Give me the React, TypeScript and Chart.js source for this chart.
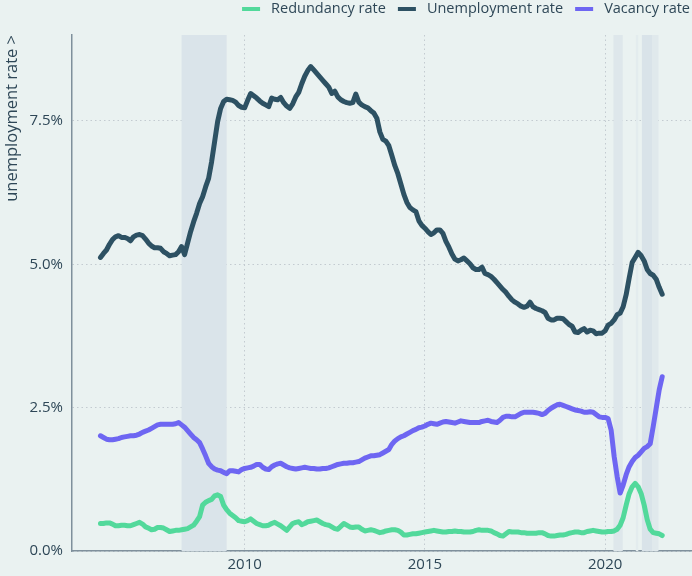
import React, { useEffect, useRef } from 'react';
import { Chart, registerables } from 'chart.js';

Chart.register(...registerables);

// ---- data (monthly, Jan 2006 .. Aug 2021) ----
const START_YEAR = 2006;
const SERIES_LABELS = ['Redundancy rate', 'Unemployment rate', 'Vacancy rate'];

const REDUNDANCY = [
  0.48, 0.48, 0.49, 0.49, 0.47, 0.44, 0.44, 0.45, 0.45, 0.44, 0.44, 0.46,
  0.48, 0.50, 0.47, 0.42, 0.40, 0.37, 0.38, 0.41, 0.41, 0.40, 0.37, 0.34,
  0.35, 0.36, 0.36, 0.37, 0.38, 0.39, 0.42, 0.45, 0.52, 0.60, 0.80, 0.85,
  0.88, 0.90, 0.96, 0.98, 0.95, 0.80, 0.72, 0.66, 0.62, 0.58, 0.53, 0.52,
  0.51, 0.53, 0.56, 0.52, 0.48, 0.46, 0.44, 0.44, 0.45, 0.48, 0.50, 0.47,
  0.44, 0.40, 0.36, 0.42, 0.48, 0.50, 0.51, 0.46, 0.48, 0.51, 0.52, 0.53,
  0.54, 0.51, 0.48, 0.46, 0.45, 0.42, 0.39, 0.38, 0.43, 0.48, 0.45, 0.42,
  0.41, 0.42, 0.42, 0.38, 0.35, 0.36, 0.37, 0.36, 0.34, 0.32, 0.33, 0.35,
  0.36, 0.37, 0.37, 0.36, 0.33, 0.28, 0.28, 0.29, 0.30, 0.30, 0.31, 0.32,
  0.33, 0.34, 0.35, 0.36, 0.35, 0.34, 0.33, 0.33, 0.34, 0.34, 0.35, 0.34,
  0.34, 0.33, 0.33, 0.33, 0.34, 0.36, 0.37, 0.36, 0.36, 0.36, 0.35, 0.32,
  0.30, 0.27, 0.26, 0.30, 0.34, 0.33, 0.33, 0.33, 0.32, 0.32, 0.31, 0.31,
  0.31, 0.31, 0.32, 0.32, 0.30, 0.27, 0.26, 0.26, 0.27, 0.28, 0.28, 0.29,
  0.31, 0.32, 0.33, 0.33, 0.32, 0.32, 0.34, 0.35, 0.36, 0.35, 0.34, 0.33,
  0.33, 0.34, 0.34, 0.35, 0.38, 0.45, 0.58, 0.80, 1.00, 1.12, 1.18, 1.12,
  1.00, 0.80, 0.55, 0.38, 0.32, 0.31, 0.30, 0.27,
];

const UNEMPLOYMENT = [
  5.12, 5.19, 5.25, 5.35, 5.43, 5.48, 5.50, 5.47, 5.47, 5.45, 5.41, 5.48,
  5.51, 5.52, 5.50, 5.44, 5.37, 5.32, 5.29, 5.29, 5.28, 5.22, 5.19, 5.15,
  5.16, 5.17, 5.22, 5.31, 5.17, 5.37, 5.57, 5.74, 5.89, 6.06, 6.18, 6.35,
  6.50, 6.79, 7.14, 7.49, 7.72, 7.84, 7.88, 7.87, 7.86, 7.83, 7.77, 7.74,
  7.73, 7.86, 7.98, 7.94, 7.90, 7.85, 7.81, 7.78, 7.75, 7.90, 7.88, 7.87,
  7.91, 7.82, 7.76, 7.72, 7.80, 7.92, 8.00, 8.15, 8.28, 8.38, 8.45, 8.39,
  8.33, 8.27, 8.21, 8.15, 8.09, 7.98, 8.02, 7.92, 7.87, 7.84, 7.82, 7.81,
  7.82, 7.97, 7.83, 7.78, 7.75, 7.73, 7.68, 7.64, 7.55, 7.31, 7.18, 7.15,
  7.07, 6.90, 6.72, 6.58, 6.40, 6.22, 6.08, 5.99, 5.95, 5.92, 5.76, 5.68,
  5.63, 5.57, 5.52, 5.55, 5.60, 5.60, 5.54, 5.40, 5.30, 5.18, 5.09, 5.06,
  5.08, 5.11, 5.06, 5.01, 4.94, 4.91, 4.91, 4.95, 4.84, 4.82, 4.79, 4.74,
  4.68, 4.62, 4.56, 4.51, 4.44, 4.38, 4.34, 4.31, 4.27, 4.25, 4.27, 4.34,
  4.26, 4.23, 4.21, 4.19, 4.16, 4.06, 4.03, 4.03, 4.06, 4.06, 4.05, 4.00,
  3.95, 3.92, 3.82, 3.81, 3.85, 3.88, 3.82, 3.85, 3.84, 3.79, 3.80, 3.80,
  3.84, 3.94, 3.97, 4.03, 4.12, 4.15, 4.26, 4.47, 4.76, 5.03, 5.12, 5.21,
  5.15, 5.06, 4.91, 4.84, 4.81, 4.74, 4.60, 4.48,
];

const VACANCY = [
  2.01, 1.98, 1.95, 1.94, 1.94, 1.95, 1.96, 1.98, 1.99, 2.00, 2.01, 2.01,
  2.02, 2.04, 2.07, 2.09, 2.11, 2.14, 2.17, 2.20, 2.21, 2.21, 2.21, 2.21,
  2.21, 2.22, 2.24, 2.20, 2.16, 2.10, 2.04, 1.98, 1.94, 1.89, 1.78, 1.66,
  1.53, 1.47, 1.43, 1.41, 1.40, 1.37, 1.35, 1.40, 1.40, 1.39, 1.38, 1.42,
  1.44, 1.45, 1.46, 1.48, 1.51, 1.51, 1.46, 1.43, 1.42, 1.47, 1.50, 1.52,
  1.53, 1.50, 1.47, 1.45, 1.44, 1.43, 1.44, 1.45, 1.46, 1.45, 1.44, 1.44,
  1.43, 1.43, 1.44, 1.44, 1.45, 1.47, 1.49, 1.51, 1.52, 1.53, 1.53, 1.54,
  1.54, 1.55, 1.56, 1.59, 1.62, 1.64, 1.66, 1.66, 1.67, 1.68, 1.71, 1.74,
  1.77, 1.86, 1.92, 1.96, 1.99, 2.01, 2.04, 2.07, 2.10, 2.12, 2.15, 2.16,
  2.18, 2.21, 2.23, 2.22, 2.21, 2.23, 2.25, 2.26, 2.25, 2.24, 2.23, 2.25,
  2.27, 2.26, 2.25, 2.24, 2.24, 2.24, 2.24, 2.26, 2.27, 2.28, 2.26, 2.25,
  2.24, 2.28, 2.33, 2.35, 2.35, 2.34, 2.34, 2.37, 2.40, 2.42, 2.42, 2.42,
  2.42, 2.41, 2.40, 2.38, 2.40, 2.45, 2.49, 2.52, 2.55, 2.56, 2.54, 2.52,
  2.50, 2.48, 2.46, 2.45, 2.44, 2.42, 2.42, 2.43, 2.42, 2.38, 2.34, 2.33,
  2.33, 2.31, 2.11, 1.65, 1.30, 1.01, 1.15, 1.33, 1.47, 1.56, 1.63, 1.67,
  1.73, 1.79, 1.82, 1.87, 2.17, 2.49, 2.81, 3.04,
];

const Y_TICKS = [0, 2.5, 5, 7.5];
const X_TICKS = [2010, 2015, 2020];
const X_MIN = 2005.21;
const X_MAX = 2022.41;
const Y_MIN = 0;
const Y_MAX = 9;

// shaded periods (decimal years)
const BAND_START = [2008.25, 2020.23, 2020.85, 2021.02, 2021.3];
const BAND_END = [2009.5, 2020.49, 2020.92, 2021.3, 2021.48];

// ---- styles ----
const BG = '#eaf2f1';
const BAND_COLORS = ['#dae4ea', '#dee7eb', '#e3ecee', '#d9e3e9', '#e0e9ec'];
const SERIES_COLORS = ['#52d99b', '#2d5163', '#6e66f2'];
const TEXT = '#2e4757';
const FONT = '"Open Sans", sans-serif';

const toPoints = (vals: number[]) => vals.map((v, i) => ({ x: START_YEAR + i / 12, y: v }));

const bandPlugin = {
  id: 'bands',
  beforeDatasetsDraw(chart: any) {
    const { ctx, chartArea, scales } = chart;
    ctx.save();
    for (let i = 0; i < BAND_START.length; i++) {
      const x1 = scales.x.getPixelForValue(BAND_START[i]);
      const x2 = scales.x.getPixelForValue(BAND_END[i]);
      ctx.fillStyle = BAND_COLORS[i];
      ctx.fillRect(x1, chartArea.top, x2 - x1, chartArea.bottom - chartArea.top);
    }
    ctx.restore();
  },
};

const legendPlugin = {
  id: 'customLegend',
  afterDraw(chart: any) {
    const { ctx } = chart;
    ctx.save();
    ctx.font = `14.5px ${FONT}`;
    ctx.textBaseline = 'middle';
    ctx.textAlign = 'left';
    let x = 690;
    for (let i = SERIES_LABELS.length - 1; i >= 0; i--) {
      const label = SERIES_LABELS[i];
      const w = ctx.measureText(label).width;
      const tx = x - w;
      ctx.fillStyle = TEXT;
      ctx.fillText(label, tx, 9);
      const boxRight = tx - 11;
      ctx.fillStyle = SERIES_COLORS[i];
      ctx.fillRect(boxRight - 18, 7, 18, 4);
      x = boxRight - 18 - 12;
    }
    ctx.restore();
  },
};

export default function App() {
  const canvasRef = useRef<HTMLCanvasElement | null>(null);

  useEffect(() => {
    if (!canvasRef.current) return;
    const seriesValues = [REDUNDANCY, UNEMPLOYMENT, VACANCY];
    const chart = new Chart(canvasRef.current, {
      type: 'line',
      data: {
        datasets: seriesValues.map((vals, i) => ({
          label: SERIES_LABELS[i],
          data: toPoints(vals),
          borderColor: SERIES_COLORS[i],
          backgroundColor: SERIES_COLORS[i],
          borderWidth: 5,
          pointRadius: 0,
          tension: 0,
          borderJoinStyle: 'round',
          borderCapStyle: 'round',
          fill: false,
        })),
      },
      options: {
        animation: false,
        responsive: true,
        maintainAspectRatio: false,
        layout: { padding: { top: 35, left: 0, right: 0, bottom: 0 } },
        plugins: {
          legend: { display: false },
          tooltip: { enabled: false },
        },
        scales: {
          x: {
            type: 'linear',
            min: X_MIN,
            max: X_MAX,
            afterBuildTicks: (s: any) => {
              s.ticks = X_TICKS.map((v) => ({ value: v }));
            },
            afterFit: (s: any) => {
              s.height = 25;
            },
            ticks: {
              color: TEXT,
              font: { family: FONT, size: 15 },
              padding: 5,
              callback: (v: any) => String(v),
            },
            grid: { color: '#c3cbd0', lineWidth: 1, drawTicks: false },
            border: { display: true, color: '#7f909c', width: 1.5, dash: [1.5, 3] },
          },
          y: {
            type: 'linear',
            min: Y_MIN,
            max: Y_MAX,
            afterBuildTicks: (s: any) => {
              s.ticks = Y_TICKS.map((v) => ({ value: v }));
            },
            afterFit: (s: any) => {
              s.width = 72;
            },
            ticks: {
              color: TEXT,
              font: { family: FONT, size: 15 },
              padding: 9,
              callback: (v: any) => Number(v).toFixed(1) + '%',
            },
            grid: { color: '#c3cbd0', lineWidth: 1, drawTicks: false },
            border: { display: true, color: '#7f909c', width: 1.5, dash: [1.5, 3] },
            title: {
              display: true,
              text: 'unemployment rate >',
              align: 'end',
              color: TEXT,
              font: { family: FONT, size: 16.5 },
              padding: { top: 2, bottom: 0 },
            },
          },
        },
      },
      plugins: [bandPlugin, legendPlugin],
    } as any);
    return () => chart.destroy();
  }, []);

  return (
    <div
      style={{
        position: 'fixed',
        left: 0,
        top: 0,
        width: 692,
        height: 576,
        background: BG,
      }}
    >
      <canvas ref={canvasRef} />
    </div>
  );
}
